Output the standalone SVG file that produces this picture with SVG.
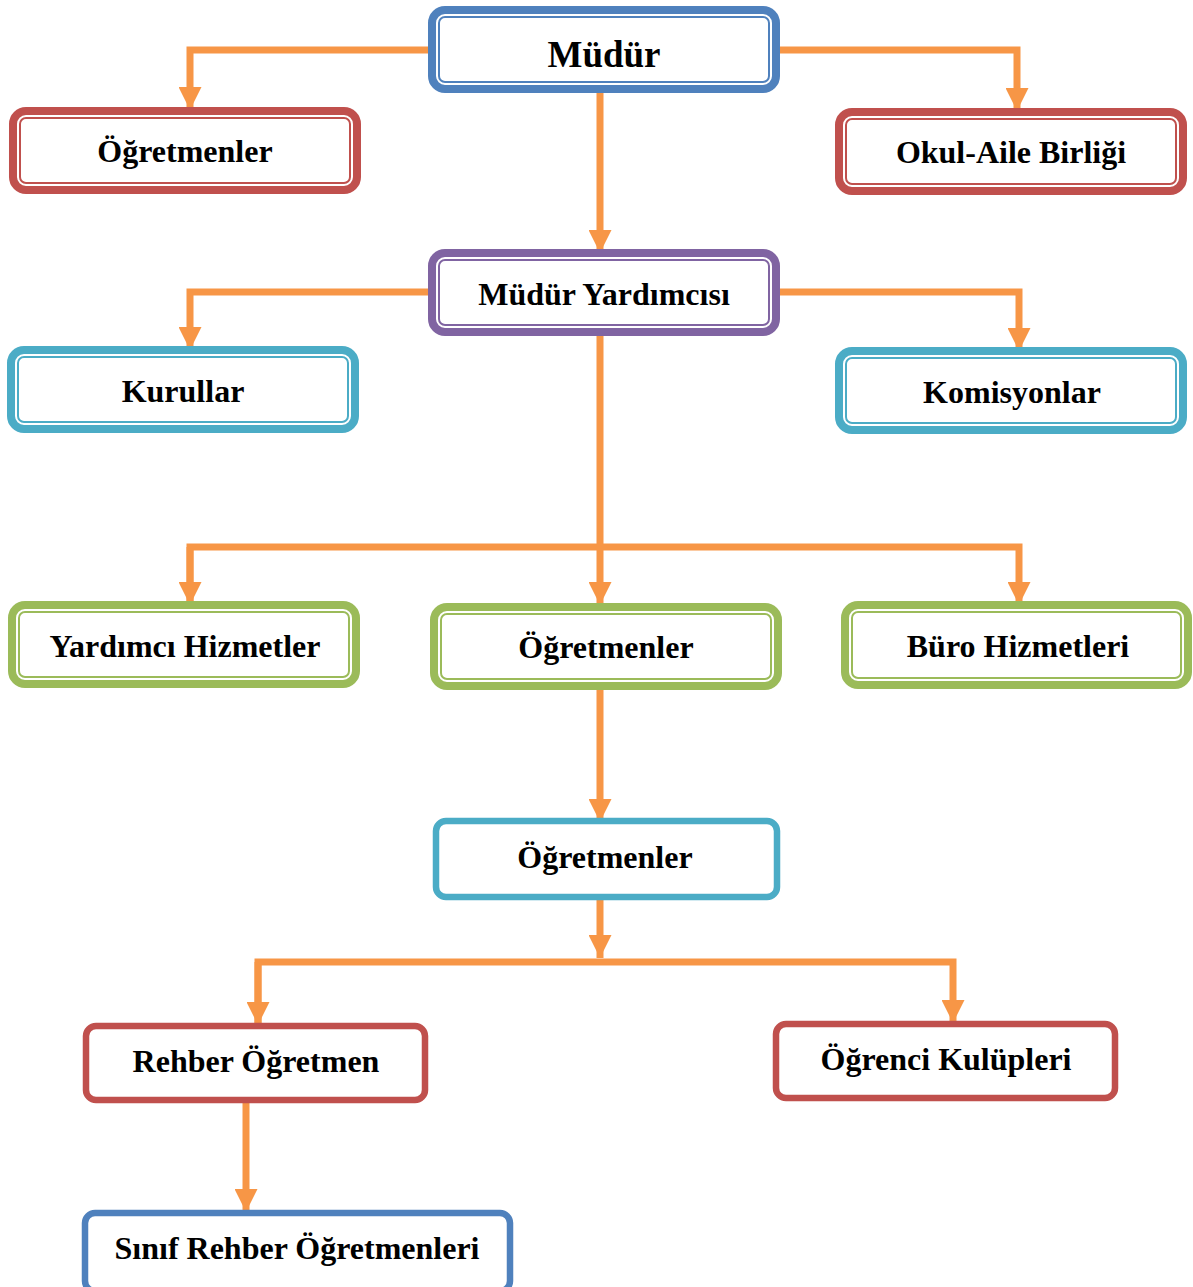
<svg xmlns="http://www.w3.org/2000/svg" width="1193" height="1287" viewBox="0 0 1193 1287">
<style>
.o{fill:#fff;stroke-width:8}
.i{fill:none;stroke-width:2}
.s{fill:#fff;stroke-width:6.5}
.t{font-family:"Liberation Serif","Times New Roman",serif;font-weight:bold;font-size:32px;text-anchor:middle;fill:#000}
.blue{stroke:#4F81BD}.red{stroke:#C0504D}.purple{stroke:#8064A2}.teal{stroke:#4BACC6}.green{stroke:#9BBB59}
.c{fill:none;stroke:#F79646;stroke-width:7}
</style>
<defs>
<marker id="ah" viewBox="0 0 10 10" refX="10" refY="5" markerUnits="userSpaceOnUse" markerWidth="23" markerHeight="23" orient="auto">
<path d="M0,0 L10,5 L0,10 Z" fill="#F79646"/>
</marker>
</defs>
<g id="connectors">
<path class="c" d="M432,50 H190 V110" marker-end="url(#ah)"/>
<path class="c" d="M776,50 H1017 V111" marker-end="url(#ah)"/>
<path class="c" d="M600,89 V253" marker-end="url(#ah)"/>
<path class="c" d="M432,292 H190 V350" marker-end="url(#ah)"/>
<path class="c" d="M776,292 H1019 V351" marker-end="url(#ah)"/>
<path class="c" d="M600,333 V605" marker-end="url(#ah)"/>
<path class="c" d="M190,605 V547 H1019 V605" marker-end="url(#ah)"/>
<path class="c" d="M190,547 V605" marker-end="url(#ah)"/>
<path class="c" d="M600,687 V822" marker-end="url(#ah)"/>
<path class="c" d="M600,898 V958" marker-end="url(#ah)"/>
<path class="c" d="M258,1025 V962 H953 V1023" marker-end="url(#ah)"/>
<path class="c" d="M258,962 V1025" marker-end="url(#ah)"/>
<path class="c" d="M246,1101 V1212" marker-end="url(#ah)"/>
</g>
<g id="mudur">
<rect class="o blue" x="432" y="10" width="344" height="79" rx="13"/>
<rect class="i blue" x="439" y="17" width="330" height="65" rx="6"/>
<text class="t" x="604" y="67" style="font-size:37px">Müdür</text>
</g>
<g id="ogretmenler1">
<rect class="o red" x="13" y="111" width="344" height="79" rx="13"/>
<rect class="i red" x="20" y="118" width="330" height="65" rx="6"/>
<text class="t" x="185" y="162">Öğretmenler</text>
</g>
<g id="okul-aile">
<rect class="o red" x="839" y="112" width="344" height="79" rx="13"/>
<rect class="i red" x="846" y="119" width="330" height="65" rx="6"/>
<text class="t" x="1011" y="163">Okul-Aile Birliği</text>
</g>
<g id="mudur-yardimcisi">
<rect class="o purple" x="432" y="253" width="344" height="79" rx="13"/>
<rect class="i purple" x="439" y="260" width="330" height="65" rx="6"/>
<text class="t" x="604" y="305">Müdür Yardımcısı</text>
</g>
<g id="kurullar">
<rect class="o teal" x="11" y="350" width="344" height="79" rx="13"/>
<rect class="i teal" x="18" y="357" width="330" height="65" rx="6"/>
<text class="t" x="183" y="402">Kurullar</text>
</g>
<g id="komisyonlar">
<rect class="o teal" x="839" y="351" width="344" height="79" rx="13"/>
<rect class="i teal" x="846" y="358" width="330" height="65" rx="6"/>
<text class="t" x="1012" y="403">Komisyonlar</text>
</g>
<g id="yardimci-hizmetler">
<rect class="o green" x="12" y="605" width="344" height="79" rx="13"/>
<rect class="i green" x="19" y="612" width="330" height="65" rx="6"/>
<text class="t" x="185" y="657">Yardımcı Hizmetler</text>
</g>
<g id="ogretmenler2">
<rect class="o green" x="434" y="607" width="344" height="79" rx="13"/>
<rect class="i green" x="441" y="614" width="330" height="65" rx="6"/>
<text class="t" x="606" y="658">Öğretmenler</text>
</g>
<g id="buro-hizmetleri">
<rect class="o green" x="845" y="605" width="343" height="80" rx="13"/>
<rect class="i green" x="852" y="612" width="329" height="66" rx="6"/>
<text class="t" x="1018" y="657">Büro Hizmetleri</text>
</g>
<g id="ogretmenler3">
<rect class="s teal" x="436" y="821" width="341" height="76" rx="10"/>
<text class="t" x="605" y="868">Öğretmenler</text>
</g>
<g id="rehber-ogretmen">
<rect class="s red" x="86" y="1026" width="339" height="74" rx="10"/>
<text class="t" x="256" y="1072">Rehber Öğretmen</text>
</g>
<g id="ogrenci-kulupleri">
<rect class="s red" x="776" y="1024" width="339" height="74" rx="10"/>
<text class="t" x="946" y="1070">Öğrenci Kulüpleri</text>
</g>
<g id="sinif-rehber">
<rect class="s blue" x="85" y="1213" width="425" height="78" rx="10"/>
<text class="t" x="297" y="1259">Sınıf Rehber Öğretmenleri</text>
</g>
</svg>
